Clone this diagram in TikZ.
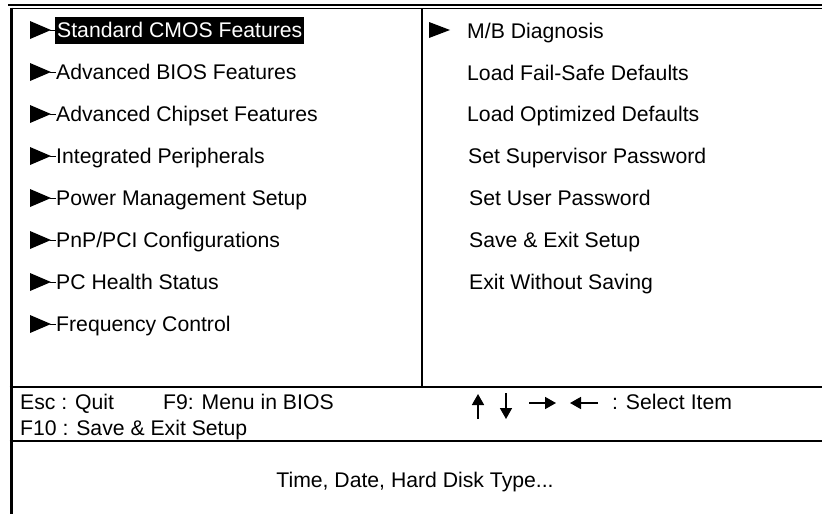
\documentclass[tikz,border=0pt]{standalone}
\usepackage{fontspec}
\setmainfont{Liberation Sans}
\usetikzlibrary{arrows.meta}
\tikzset{
  item/.style={anchor=base west, inner sep=0pt, font=\fontsize{21.2}{24}\selectfont},
  sel/.style={anchor=base west, inner xsep=2pt, inner ysep=0pt, text height=20.5pt, text depth=6.5pt, fill=black, text=white, font=\fontsize{21.2}{24}\selectfont},
  tri/.style={fill=black},
  keyarrow/.style={line width=1.6pt, -{Triangle[length=11pt,width=12pt]}},
}
\begin{document}
\begin{tikzpicture}[x=1pt,y=-1pt]
\useasboundingbox (0,0) rectangle (822,514);
% frame
\draw[line width=2.5pt] (8,5) -- (822,5);
\draw[line width=1.6pt] (10,8.5) -- (822,8.5);
\draw[line width=3pt] (11,7.5) -- (11,514);
\draw[line width=2pt] (422,8.5) -- (422,387);
\draw[line width=2.5pt] (9.5,387) -- (822,387);
\draw[line width=2pt] (9.5,441) -- (822,441);
% left column
\node[sel] (l1) at (55,37.5) {Standard CMOS Features};
\node[item] (l2) at (56,79.5) {Advanced BIOS Features};
\node[item] (l3) at (56,121.5) {Advanced Chipset Features};
\node[item] (l4) at (56,163.5) {Integrated Peripherals};
\node[item] (l5) at (56,205.5) {Power Management Setup};
\node[item] (l6) at (56,247.5) {PnP/PCI Configurations};
\node[item] (l7) at (56,289.5) {PC Health Status};
\node[item] (l8) at (56,331.5) {Frequency Control};
\foreach \y in {30,72,114,156,198,240,282,324}{
  \fill[tri] (30,\y-9) -- (51,\y) -- (30,\y+9) -- cycle;
  \draw[line width=0.7pt] (50,\y) -- (56,\y);
}
% right column
\fill[tri] (429,22) -- (450,30) -- (429,38) -- cycle;
\node[item] (r1) at (467,38.5) {M/B Diagnosis};
\node[item] (r2) at (467,80.5) {Load Fail-Safe Defaults};
\node[item] (r3) at (467,121.5) {Load Optimized Defaults};
\node[item] (r4) at (468,163.5) {Set Supervisor Password};
\node[item] (r5) at (469,205.5) {Set User Password};
\node[item] (r6) at (469,247.5) {Save \& Exit Setup};
\node[item] (r7) at (469,289.5) {Exit Without Saving};
% key help
\node[item] (esc) at (20,409) {Esc : Quit};
\node[item] (f9) at (163,409) {F9: Menu in BIOS};
\node[item] (f10) at (20,435) {F10 : Save \& Exit Setup};
\coordinate (ua) at (478,419);
\coordinate (ub) at (478,394);
\coordinate (da) at (506,393);
\coordinate (db) at (506,419);
\coordinate (ra) at (529,403);
\coordinate (rb) at (556,403);
\coordinate (la) at (598,403);
\coordinate (lb) at (570,403);
\draw[keyarrow] (ua) -- (ub);
\draw[keyarrow] (da) -- (db);
\draw[keyarrow] (ra) -- (rb);
\draw[keyarrow] (la) -- (lb);
\node[item] (selitem) at (612,409) {: Select Item};
% help text
\node[anchor=base, inner sep=0pt, font=\fontsize{21.2}{24}\selectfont] (help) at (415,487.5) {Time, Date, Hard Disk Type...};
\end{tikzpicture}
\end{document}
